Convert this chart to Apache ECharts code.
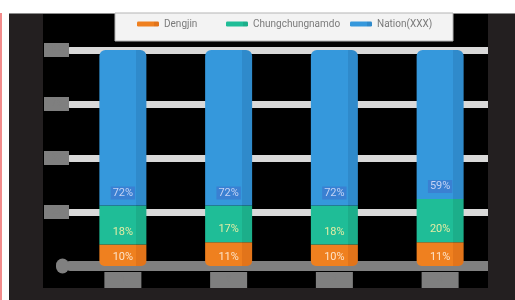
<!DOCTYPE html>
<html>
<head>
<meta charset="utf-8">
<script src="https://cdn.jsdelivr.net/npm/echarts@6/dist/echarts.min.js"></script>
<style>
html,body{margin:0;padding:0;background:#fff;}
#chart{width:515px;height:300px;}
</style>
</head>
<body>
<div id="chart"></div>
<script>
const categories = ['1', '2', '3', '4'];
const seriesNames = ['Dengjin', 'Chungchungnamdo', 'Nation(XXX)'];
const dengjin = [10, 11, 10, 11];
const chungnam = [18, 17, 18, 20];
const nation = [72, 72, 72, 69];
const dengjinLabels = ['10%', '11%', '10%', '11%'];
const chungnamLabels = ['18%', '17%', '18%', '20%'];
const nationLabels = ['72%', '72%', '72%', '59%'];
const yTicks = [0, 25, 50, 75, 100];

function grad(c, d) {
  return new echarts.graphic.LinearGradient(0, 0, 1, 0, [
    {offset: 0, color: c}, {offset: 0.78, color: c},
    {offset: 0.78, color: d}, {offset: 1, color: d}
  ]);
}

const chart = echarts.init(document.getElementById('chart'), null, {renderer: 'canvas'});
const font = 'Roboto';
const legendText = {color: '#7a7a7a', fontSize: 10, fontFamily: font};
const mkLegend = (name, left) => ({
  data: [name], left: left, top: 19, padding: 0, itemWidth: 22, itemHeight: 5,
  icon: 'roundRect', itemGap: 6, textStyle: legendText, selectedMode: false
});

chart.setOption({
  animation: false,
  backgroundColor: '#ffffff',
  textStyle: {fontFamily: font},
  graphic: [
    {type: 'rect', z: -10, shape: {x: 0, y: 13, width: 2, height: 287}, style: {fill: '#f28b8b'}},
    {type: 'rect', z: -10, shape: {x: 9, y: 13, width: 506, height: 287}, style: {fill: '#231f20'}},
    {type: 'line', z: -9, shape: {x1: 9, y1: 13.5, x2: 515, y2: 13.5}, style: {stroke: '#8c8c8c', lineWidth: 1}},
    {type: 'rect', z: -9, shape: {x: 43, y: 14, width: 445, height: 274}, style: {fill: '#000000'}},
    {type: 'rect', z: -8, shape: {x: 115, y: 13, width: 338, height: 28}, style: {fill: '#f3f3f3', stroke: '#b5b5b5', lineWidth: 1}},
    {type: 'rect', z: 100, shape: {x: 488, y: 14, width: 27, height: 286}, style: {fill: '#231f20'}}
  ],
  legend: [
    mkLegend(seriesNames[0], 137),
    mkLegend(seriesNames[1], 226),
    mkLegend(seriesNames[2], 350)
  ],
  grid: {left: 70, right: 22, top: 50, bottom: 34, containLabel: false},
  xAxis: {
    type: 'category', data: categories,
    axisTick: {show: false},
    axisLine: {lineStyle: {color: '#808080', width: 10}},
    axisLabel: {
      margin: 6,
      formatter: v => '{b|' + v + '}',
      rich: {b: {width: 37, height: 16, backgroundColor: '#7f7f7f', color: '#7f7f7f', fontSize: 9, align: 'center'}}
    }
  },
  yAxis: {
    type: 'value', min: yTicks[0], max: yTicks[yTicks.length - 1], interval: 25,
    axisLine: {show: false}, axisTick: {show: false},
    splitLine: {lineStyle: {color: '#d9d9d9', width: 7, cap: 'round'}},
    axisLabel: {
      margin: 1,
      formatter: v => v === 0 ? '{z|' + v + '}' : '{b|' + v + '}',
      rich: {
        b: {width: 25, height: 14, backgroundColor: '#7f7f7f', color: '#7f7f7f', fontSize: 9, align: 'center'},
        z: {width: 13, height: 15, backgroundColor: '#808080', color: '#808080', fontSize: 9, borderRadius: 7, align: 'center'}
      }
    }
  },
  series: [
    {
      name: seriesNames[0], type: 'bar', stack: 'total', barWidth: 47, data: dengjin,
      itemStyle: {color: grad('#ef801f', '#e2741a'), borderRadius: [0, 0, 5, 5]},
      label: {show: true, position: 'insideBottom', distance: 3, color: '#fde3c8', fontSize: 11,
        formatter: p => dengjinLabels[p.dataIndex]}
    },
    {
      name: seriesNames[1], type: 'bar', stack: 'total', barWidth: 47, data: chungnam,
      itemStyle: {color: grad('#1fbd97', '#1cae8a')},
      label: {show: true, position: 'insideBottom', distance: 7, color: '#e3eca5', fontSize: 11,
        formatter: p => chungnamLabels[p.dataIndex]}
    },
    {
      name: seriesNames[2], type: 'bar', stack: 'total', barWidth: 47, data: nation,
      itemStyle: {color: grad('#3598dc', '#2f8acb'), borderRadius: [6, 6, 0, 0]},
      label: {show: true, position: 'insideBottom', distance: 6, color: '#c5d3f5', fontSize: 11,
        backgroundColor: '#3a80d2', padding: [1, 2],
        formatter: p => nationLabels[p.dataIndex]}
    }
  ]
});
</script>
</body>
</html>
